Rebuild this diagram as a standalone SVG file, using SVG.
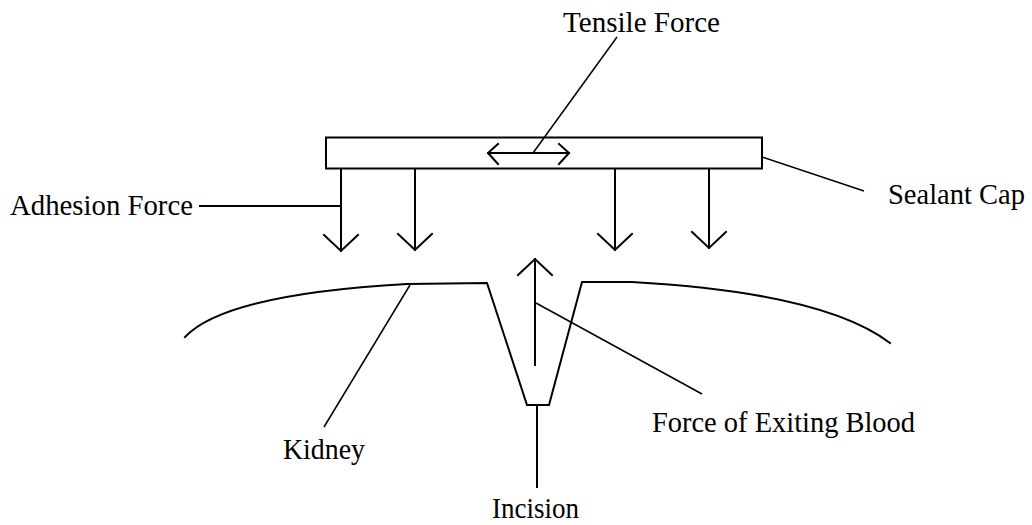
<svg xmlns="http://www.w3.org/2000/svg" width="1032" height="525" viewBox="0 0 1032 525">
<style>
.ln{fill:none;stroke:#000;stroke-width:2;stroke-linecap:square;stroke-linejoin:miter}
.ld{fill:none;stroke:#000;stroke-width:1.5}
.t{font-family:"Liberation Serif","Times New Roman",serif;font-size:30px;fill:#000}
</style>
<rect width="1032" height="525" fill="#fff"/>
<g id="sealant-cap">
<rect class="ln" x="326" y="137.5" width="436" height="31"/>
</g>
<g id="kidney">
<path class="ln" d="M185,337 C215,305 300,290 407,284 L487,283 L527,405 L549,405 L582,282 L632,282 C740,288 840,305 890,343"/>
</g>
<g id="labels">
<text class="t" x="563" y="32" textLength="157" lengthAdjust="spacingAndGlyphs">Tensile Force</text>
<text class="t" x="10" y="215" textLength="183" lengthAdjust="spacingAndGlyphs">Adhesion Force</text>
<text class="t" x="888" y="204" textLength="137" lengthAdjust="spacingAndGlyphs">Sealant Cap</text>
<text class="t" x="283" y="459" textLength="82" lengthAdjust="spacingAndGlyphs">Kidney</text>
<text class="t" x="652" y="432" textLength="263" lengthAdjust="spacingAndGlyphs">Force of Exiting Blood</text>
<text class="t" x="492" y="518" textLength="87" lengthAdjust="spacingAndGlyphs">Incision</text>
</g>
<g id="connectors">
<path class="ln" d="M488,153 L569,153 M498,144 L488,153 L498,164 M559,144 L569,153 L559,164"/>
<path class="ln" d="M341,169 L341,251 M324,235 L341,251 L358,235"/>
<path class="ln" d="M415,169 L415,250 M398,234 L415,250 L432,234"/>
<path class="ln" d="M615,169 L615,250 M598,234 L615,250 L632,234"/>
<path class="ln" d="M709,169 L709,248 M692,232 L709,248 L726,232"/>
<path class="ln" d="M535,365 L535,259 M518,275 L535,259 L552,275"/>
<path class="ld" d="M533,153 L617,37"/>
<path class="ln" d="M200,206 L340,206"/>
<path class="ld" d="M762,157 L864,191"/>
<path class="ld" d="M410,285 L324,427"/>
<path class="ld" d="M536,303 L702,394"/>
<path class="ln" d="M537,406 L537,487"/>
</g>
</svg>
